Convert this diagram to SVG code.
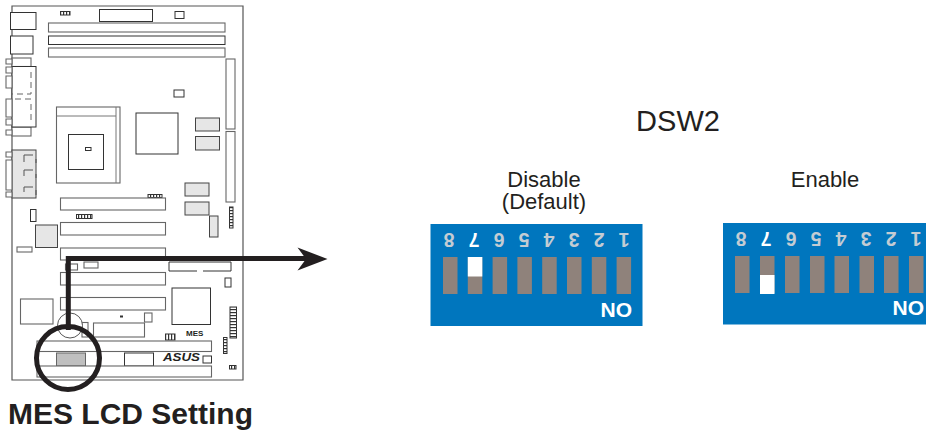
<svg xmlns="http://www.w3.org/2000/svg" width="926" height="430" viewBox="0 0 926 430">
<defs>
<pattern id="lad-v" width="3" height="3" patternUnits="userSpaceOnUse"><rect width="3" height="3" fill="#fff"/><rect width="3" height="1.2" fill="#333"/></pattern>
<pattern id="lad-h" width="3" height="3" patternUnits="userSpaceOnUse"><rect width="3" height="3" fill="#fff"/><rect width="1.2" height="3" fill="#333"/></pattern>
</defs>
<style>
text{font-family:"Liberation Sans",Arial,sans-serif;fill:#231f20}
.p{fill:#fff;stroke:#333;stroke-width:1}
.g{fill:#e6e6e6;stroke:#444;stroke-width:1}
.s{fill:#fff;stroke:#666;stroke-width:1.100}
.d{fill:none;stroke:#666;stroke-width:1;stroke-dasharray:6 4}
.lv{fill:url(#lad-v);stroke:#333;stroke-width:1}
.lh{fill:url(#lad-h);stroke:#333;stroke-width:1}
.b{fill:#0076be}
.sw{fill:#8f827b}
.on{fill:#fff}
.n{font-size:19.500px;font-weight:bold;fill:#c3ccd3;text-anchor:middle}
.no{font-size:21px;font-weight:bold;fill:#fff;text-anchor:end}
.l{font-size:22px;text-anchor:middle}
</style>
<g id="board">
<path d="M12 380V6H243V380Z" fill="#fff" stroke="#555" stroke-width="1.200"/>
<rect class="p" x="10.500" y="12.500" width="25.500" height="17"/>
<rect class="p" x="10.500" y="36" width="22.500" height="18"/>
<rect class="lh" x="60.500" y="11.500" width="9.500" height="3.500"/>
<rect class="p" x="99.500" y="9.500" width="53" height="12"/>
<rect class="p" x="175" y="11.500" width="9" height="7"/>
<rect class="s" x="48.500" y="23" width="176.500" height="9"/>
<rect class="p" x="48.500" y="36" width="176.500" height="8.500"/>
<rect class="s" x="48.500" y="48" width="176.500" height="9"/>
<rect class="s" x="12" y="58" width="19" height="8.500"/>
<rect class="s" x="12" y="127" width="19" height="9"/>
<rect class="p" x="12" y="66.500" width="24" height="60.500"/>
<path class="s" d="M6 59h6v5H6zM6 67h6v6H6zM6 76h6v12H6zM6 99h6v18H6zM6 119h6v6H6zM6 130h6v5H6z"/>
<path class="d" d="M31 72V94H12M31 99H12M31 104V122"/>
<rect class="g" x="12" y="150" width="24" height="48"/>
<path class="s" d="M6 152h6v5H6zM6 160h6v30H6zM6 192h6v5H6z"/>
<path fill="none" stroke="#555" d="M24 162V155H33M36 159V163M24 176V170H33M36 174V178M24 192V187H33M36 190V195"/>
<rect class="s" x="56.500" y="107" width="63.500" height="76"/>
<path fill="none" stroke="#777" d="M56.500 116H116M116 107V183"/>
<rect class="p" x="68.500" y="134.500" width="35" height="35"/>
<rect class="p" x="85.500" y="147.500" width="5.500" height="3"/>
<rect class="p" x="136" y="113" width="42" height="41"/>
<rect class="p" x="174" y="90" width="10" height="7"/>
<rect class="g" x="195.500" y="118" width="24" height="13"/>
<rect class="g" x="195.500" y="136.500" width="24" height="13.500"/>
<rect class="s" x="226" y="59" width="9" height="70"/>
<rect class="s" x="226" y="131.500" width="9" height="70.500"/>
<rect class="g" x="185" y="183" width="24" height="13"/>
<rect class="g" x="185" y="202" width="24" height="13"/>
<rect class="g" x="209.500" y="216" width="8.500" height="21"/>
<rect class="lv" x="229.500" y="207" width="3.500" height="21"/>
<rect class="lh" x="148" y="194.500" width="14" height="3"/>
<rect class="lh" x="76.500" y="214.500" width="15.500" height="4"/>
<rect class="s" x="60.500" y="198" width="105" height="12"/>
<rect class="s" x="60.500" y="222.500" width="105" height="12.500"/>
<rect class="s" x="60.500" y="248" width="105" height="12"/>
<rect class="s" x="60.500" y="272.500" width="105" height="12.500"/>
<rect class="s" x="60.500" y="297.500" width="105" height="12.500"/>
<rect class="p" x="30.500" y="209.500" width="5.500" height="12"/>
<rect class="g" x="35.500" y="225" width="22" height="22.500"/>
<rect class="s" x="17" y="247" width="15" height="5"/>
<rect class="s" x="65.500" y="264" width="12" height="6"/>
<rect class="s" x="84" y="262" width="14" height="6"/>
<path class="p" d="M197 271H169V262H231V271H203"/>
<rect class="p" x="225" y="278" width="6" height="9"/>
<rect class="p" x="172" y="288" width="38.500" height="36.500"/>
<rect class="lv" x="230" y="307" width="6.500" height="31"/>
<rect class="s" x="20.500" y="299" width="32.500" height="25"/>
<rect class="s" x="82" y="322.500" width="6" height="14.500"/>
<circle cx="70" cy="325.500" r="12.500" fill="#fff" stroke="#555"/>
<rect x="120" y="315.500" width="3" height="2" fill="#333"/>
<rect class="s" x="144.500" y="313" width="7.500" height="9"/>
<rect class="s" x="93.500" y="323" width="51" height="14"/>
<rect class="lh" x="165.500" y="334" width="9.500" height="6"/>
<text x="186" y="336" font-size="8" font-weight="bold" fill="#444">MES</text>
<rect class="s" x="37" y="341" width="174.500" height="10.500"/>
<rect class="lv" x="223.500" y="337.500" width="3.500" height="16"/>
<rect x="56.500" y="353" width="29" height="13" fill="#bfbfbf" stroke="#666"/>
<rect class="p" x="124.500" y="353" width="29" height="13"/>
<text x="163" y="361" font-size="11.500" font-weight="bold" font-style="italic" textLength="37" lengthAdjust="spacingAndGlyphs">ASUS</text>
<rect class="p" x="203" y="356" width="8.500" height="7"/>
<rect class="lh" x="229.500" y="365.500" width="6.500" height="3.500"/>
<rect class="s" x="37" y="366" width="174.500" height="11"/>
</g>
<g id="connectors">
<path d="M68.300 330V258.500H310" fill="none" stroke="#231f20" stroke-width="5"/>
<polygon points="297.500,247.500 327.500,259 297.500,270.500 306,259" fill="#231f20"/>
</g>
<g id="marker-circle"><circle cx="68" cy="358" r="31.500" fill="none" stroke="#231f20" stroke-width="5"/></g>
<g id="title-dsw2"><text x="678" y="131" font-size="29" text-anchor="middle">DSW2</text></g>
<g id="caption"><text x="8" y="424" font-size="30" font-weight="bold">MES LCD Setting</text></g>
<g id="dip-disable">
<text class="l"><tspan x="544" y="187">Disable</tspan><tspan x="544" y="209">(Default)</tspan></text>
<rect class="b" x="430.500" y="224" width="212" height="102"/>
<text class="n" transform="rotate(180 449 240)" x="449" y="247">8</text>
<text class="n" style="fill:#fff" transform="rotate(180 474 240)" x="474" y="247">7</text>
<text class="n" transform="rotate(180 499 240)" x="499" y="247">6</text>
<text class="n" transform="rotate(180 524 240)" x="524" y="247">5</text>
<text class="n" transform="rotate(180 549 240)" x="549" y="247">4</text>
<text class="n" transform="rotate(180 574 240)" x="574" y="247">3</text>
<text class="n" transform="rotate(180 599 240)" x="599" y="247">2</text>
<text class="n" transform="rotate(180 624 240)" x="624" y="247">1</text>
<rect class="sw" x="443" y="257" width="14.500" height="37"/>
<rect class="sw" x="467.800" y="257" width="14.500" height="37"/>
<rect class="on" x="467.800" y="257" width="14.500" height="19.500"/>
<rect class="sw" x="492.600" y="257" width="14.500" height="37"/>
<rect class="sw" x="517.400" y="257" width="14.500" height="37"/>
<rect class="sw" x="542.200" y="257" width="14.500" height="37"/>
<rect class="sw" x="567" y="257" width="14.500" height="37"/>
<rect class="sw" x="591.800" y="257" width="14.500" height="37"/>
<rect class="sw" x="616.600" y="257" width="14.500" height="37"/>
<text class="no" x="632" y="317">NO</text>
</g>
<g id="dip-enable">
<text class="l" x="825" y="187">Enable</text>
<rect class="b" x="723" y="223" width="203" height="101.500"/>
<text class="n" transform="rotate(180 741 239)" x="741" y="246">8</text>
<text class="n" style="fill:#fff" transform="rotate(180 766 239)" x="766" y="246">7</text>
<text class="n" transform="rotate(180 791 239)" x="791" y="246">6</text>
<text class="n" transform="rotate(180 816 239)" x="816" y="246">5</text>
<text class="n" transform="rotate(180 841 239)" x="841" y="246">4</text>
<text class="n" transform="rotate(180 866 239)" x="866" y="246">3</text>
<text class="n" transform="rotate(180 891 239)" x="891" y="246">2</text>
<text class="n" transform="rotate(180 916 239)" x="916" y="246">1</text>
<rect class="sw" x="735" y="256" width="14.500" height="37"/>
<rect class="sw" x="760" y="256" width="14.500" height="37"/>
<rect class="on" x="760" y="275" width="14.500" height="19"/>
<rect class="sw" x="785" y="256" width="14.500" height="37"/>
<rect class="sw" x="810" y="256" width="14.500" height="37"/>
<rect class="sw" x="834.500" y="256" width="14.500" height="37"/>
<rect class="sw" x="859.500" y="256" width="14.500" height="37"/>
<rect class="sw" x="884" y="256" width="14.500" height="37"/>
<rect class="sw" x="909" y="256" width="14.500" height="37"/>
<text class="no" x="924" y="315">NO</text>
</g>
</svg>
